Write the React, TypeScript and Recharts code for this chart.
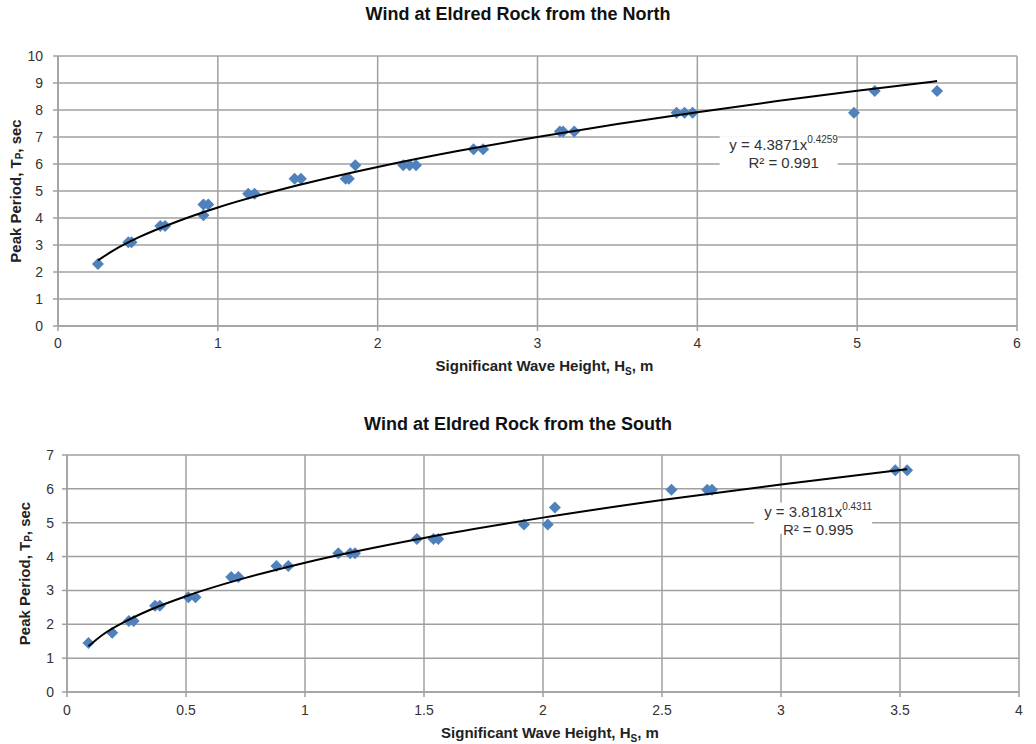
import React from 'react';
import { ScatterChart, Scatter, XAxis, YAxis, CartesianGrid, Label, ReferenceDot } from 'recharts';

// North wind: measured points
const northHs = [0.25, 0.44, 0.46, 0.64, 0.67, 0.91, 0.91, 0.94, 1.19, 1.23, 1.48, 1.52, 1.80, 1.82, 1.86,
  2.16, 2.20, 2.24, 2.60, 2.66, 3.14, 3.16, 3.23, 3.87, 3.92, 3.97, 4.98, 5.11, 5.50];
const northTp = [2.3, 3.1, 3.1, 3.7, 3.7, 4.1, 4.5, 4.5, 4.9, 4.9, 5.45, 5.45, 5.45, 5.45, 5.95,
  5.95, 5.95, 5.95, 6.55, 6.55, 7.2, 7.2, 7.2, 7.9, 7.9, 7.9, 7.9, 8.7, 8.7];
// North wind: power trend line
const northFitHs = [0.25, 0.35, 0.5, 0.75, 1, 1.5, 2, 2.5, 3, 3.5, 4, 4.5, 5, 5.5];
const northFitTp = [2.43, 2.81, 3.27, 3.88, 4.39, 5.21, 5.89, 6.48, 7.0, 7.48, 7.92, 8.33, 8.71, 9.07];

// South wind: measured points
const southHs = [0.09, 0.19, 0.26, 0.28, 0.37, 0.39, 0.51, 0.54, 0.69, 0.72, 0.88, 0.93, 1.14, 1.19, 1.21,
  1.47, 1.54, 1.56, 1.92, 2.02, 2.05, 2.54, 2.69, 2.71, 3.48, 3.53];
const southTp = [1.45, 1.75, 2.1, 2.1, 2.55, 2.55, 2.8, 2.8, 3.4, 3.4, 3.72, 3.72, 4.1, 4.1, 4.1,
  4.52, 4.52, 4.52, 4.95, 4.95, 5.45, 5.97, 5.97, 5.97, 6.55, 6.55];
const southFitHs = [0.09, 0.15, 0.25, 0.35, 0.5, 0.75, 1, 1.5, 2, 2.5, 3, 3.53];
const southFitTp = [1.35, 1.69, 2.10, 2.43, 2.83, 3.37, 3.82, 4.55, 5.15, 5.67, 6.13, 6.58];

const northXTicks = [0, 1, 2, 3, 4, 5, 6];
const northYTicks = [0, 1, 2, 3, 4, 5, 6, 7, 8, 9, 10];
const southXTicks = [0, 0.5, 1, 1.5, 2, 2.5, 3, 3.5, 4];
const southYTicks = [0, 1, 2, 3, 4, 5, 6, 7];

const zip = (xs: number[], ys: number[]) => xs.map((x, i) => ({ x, y: ys[i] }));

const FONT = 'Arial, "Liberation Sans", sans-serif';
const GRID = '#a0a0a0';
const BLUE = '#4F81BD';

const Diamond = (p: any) => {
  const { cx, cy } = p;
  const r = 6;
  return <polygon points={`${cx},${cy - r} ${cx + r},${cy} ${cx},${cy + r} ${cx - r},${cy}`} fill={BLUE} />;
};

const NoDot = () => <g />;

const XTitle = (dy: number) => (props: any) => {
  const vb = props.viewBox;
  return (
    <text x={vb.x + vb.width / 2 + 7} y={vb.y + dy} textAnchor="middle" fontFamily={FONT}
      fontSize={15} fontWeight="bold" fill="#222">
      Significant Wave Height, H<tspan dy={4} fontSize={10}>S</tspan><tspan dy={-4}>, m</tspan>
    </text>
  );
};

const YTitle = (cxOff: number) => (props: any) => {
  const vb = props.viewBox;
  const cx = vb.x + cxOff;
  const cy = vb.y + vb.height / 2;
  return (
    <text x={cx} y={cy} transform={`rotate(-90 ${cx} ${cy})`} textAnchor="middle" dominantBaseline="central"
      fontFamily={FONT} fontSize={15} fontWeight="bold" fill="#222">
      Peak Period, T<tspan dy={4} fontSize={10}>P</tspan><tspan dy={-4}>, sec</tspan>
    </text>
  );
};

const EqBox = (coef: string, expo: string, r2: string) => (p: any) => {
  const { cx, cy } = p;
  return (
    <g fontFamily={FONT} fill="#333">
      <rect x={cx - 64} y={cy - 16} width={118} height={31} fill="#fff" />
      <text x={cx} y={cy - 2} textAnchor="middle" fontSize={15} fill="#333">
        y = {coef}x<tspan dy={-7} fontSize={10}>{expo}</tspan>
      </text>
      <text x={cx} y={cy + 16} textAnchor="middle" fontSize={15} fill="#333">R² = {r2}</text>
    </g>
  );
};

const titleStyle: React.CSSProperties = {
  position: 'absolute', left: 0, width: 1036, textAlign: 'center', fontFamily: FONT,
  fontWeight: 'bold', fontSize: 18, lineHeight: '18px', color: '#111',
};

const tickStyle = { fill: '#333', fontSize: 14, fontFamily: FONT };

const App = () => (
  <div style={{ position: 'absolute', left: 0, top: 0, width: 1036, height: 744, background: '#fff' }}>
    <div style={{ ...titleStyle, top: 5 }}>Wind at Eldred Rock from the North</div>
    <div style={{ position: 'absolute', left: 0, top: 0 }}>
      <ScatterChart width={1036} height={390} margin={{ top: 56, right: 19, left: 0, bottom: 14 }}>
        <CartesianGrid stroke={GRID} strokeWidth={1.5} />
        <XAxis type="number" dataKey="x" domain={[0, 6]} ticks={northXTicks} height={50}
          tick={tickStyle} tickSize={5} tickMargin={7} axisLine={{ stroke: GRID, strokeWidth: 1.5 }}
          tickLine={{ stroke: GRID, strokeWidth: 1.5 }} allowDataOverflow>
          <Label content={XTitle(45)} />
        </XAxis>
        <YAxis type="number" dataKey="y" domain={[0, 10]} ticks={northYTicks} width={58}
          tick={tickStyle} tickSize={5} tickMargin={10} axisLine={{ stroke: GRID, strokeWidth: 1.5 }}
          tickLine={{ stroke: GRID, strokeWidth: 1.5 }} allowDataOverflow>
          <Label content={YTitle(15)} />
        </YAxis>
        <Scatter name="north" data={zip(northHs, northTp)} shape={Diamond} isAnimationActive={false} />
        <Scatter name="north fit" data={zip(northFitHs, northFitTp)} shape={NoDot}
          line={{ stroke: '#000', strokeWidth: 2 }} lineJointType="monotoneX" isAnimationActive={false} />
        <ReferenceDot x={4.54} y={6.44} r={0} shape={EqBox('4.3871', '0.4259', '0.991')} />
      </ScatterChart>
    </div>

    <div style={{ ...titleStyle, top: 415 }}>Wind at Eldred Rock from the South</div>
    <div style={{ position: 'absolute', left: 0, top: 390 }}>
      <ScatterChart width={1036} height={354} margin={{ top: 65, right: 17, left: 0, bottom: 12 }}>
        <CartesianGrid stroke={GRID} strokeWidth={1.5} />
        <XAxis type="number" dataKey="x" domain={[0, 4]} ticks={southXTicks} height={40}
          tick={tickStyle} tickSize={5} tickMargin={8} axisLine={{ stroke: GRID, strokeWidth: 1.5 }}
          tickLine={{ stroke: GRID, strokeWidth: 1.5 }} allowDataOverflow>
          <Label content={XTitle(46)} />
        </XAxis>
        <YAxis type="number" dataKey="y" domain={[0, 7]} ticks={southYTicks} width={67}
          tick={tickStyle} tickSize={5} tickMargin={8} axisLine={{ stroke: GRID, strokeWidth: 1.5 }}
          tickLine={{ stroke: GRID, strokeWidth: 1.5 }} allowDataOverflow>
          <Label content={YTitle(24)} />
        </YAxis>
        <Scatter name="south" data={zip(southHs, southTp)} shape={Diamond} isAnimationActive={false} />
        <Scatter name="south fit" data={zip(southFitHs, southFitTp)} shape={NoDot}
          line={{ stroke: '#000', strokeWidth: 2 }} lineJointType="monotoneX" isAnimationActive={false} />
        <ReferenceDot x={3.156} y={5.12} r={0} shape={EqBox('3.8181', '0.4311', '0.995')} />
      </ScatterChart>
    </div>
  </div>
);

export default App;
